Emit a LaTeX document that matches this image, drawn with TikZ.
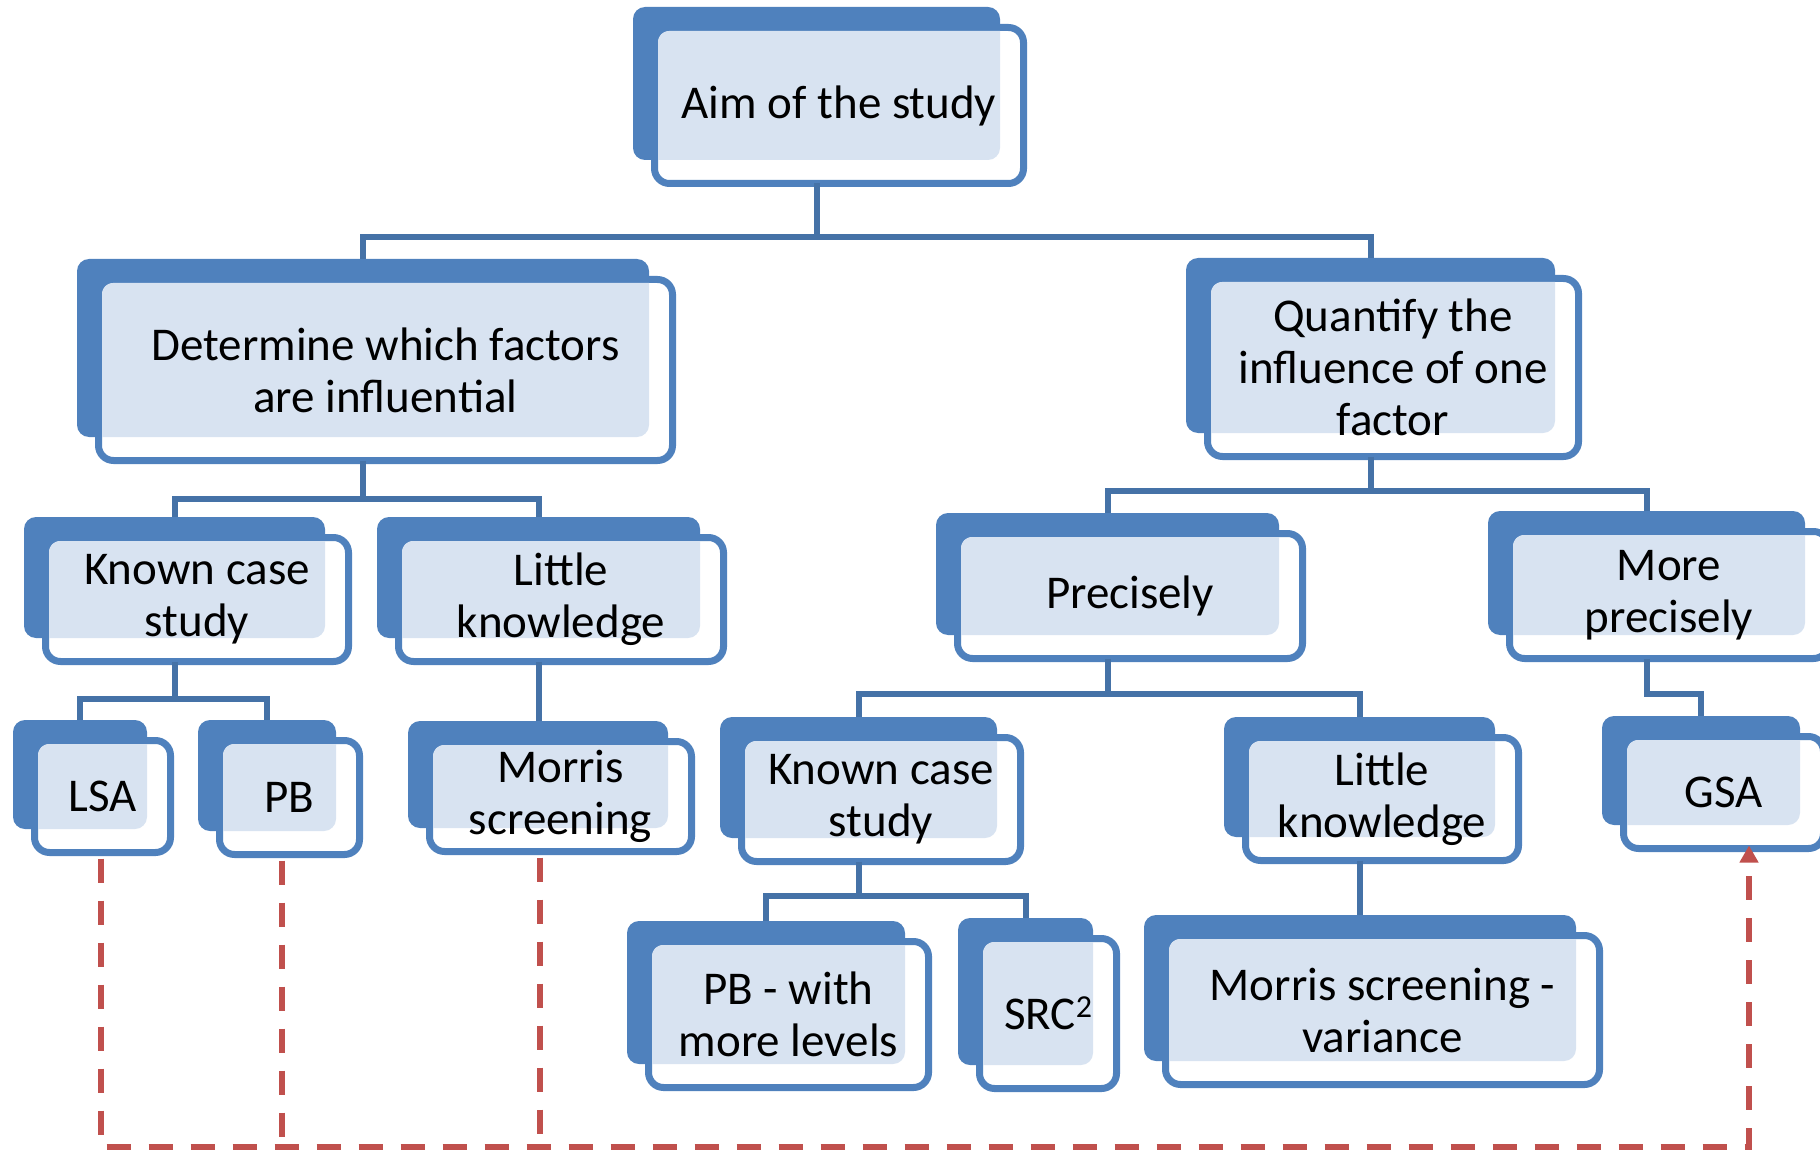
\documentclass[tikz,border=0pt]{standalone}
\usepackage{fontspec}
\setmainfont{Carlito}
\usetikzlibrary{calc,arrows.meta}
\definecolor{backblue}{RGB}{79,129,189}
\definecolor{frontblue}{RGB}{79,129,189}
\definecolor{connblue}{RGB}{69,114,167}
\definecolor{lightfill}{RGB}{216,227,241}
\definecolor{dashred}{RGB}{192,80,77}
\tikzset{
  backbox/.style={fill=backblue, draw=none, rounded corners=12pt, inner sep=0pt, outer sep=0pt, rectangle},
  frontbox/.style={fill=white, draw=frontblue, line width=7pt, rounded corners=15pt, inner sep=0pt, outer sep=0pt, rectangle},
  txt/.style={align=center, inner sep=0pt, font=\fontsize{47}{52}\selectfont, text=black},
  conn/.style={draw=connblue, line width=6pt},
  reddash/.style={draw=dashred, line width=6.5pt, dash pattern=on 24pt off 18pt},
}
% name, L, T, R, B, text
\newcommand{\tbox}[6]{%
  \node[backbox, minimum width={#4-#2-9}, minimum height={#5-#3-10}] (#1B) at ({(#2+#4)/2-22.5},{(#3+#5)/2-22}) {};
  \node[frontbox, minimum width={#4-#2-7}, minimum height={#5-#3-7}] (#1) at ({(#2+#4)/2},{(#3+#5)/2}) {};
  \begin{scope}
    \clip[rounded corners=11pt] (#2+7,#3+7) rectangle (#4-7,#5-7);
    \fill[lightfill, rounded corners=12pt] (#2-18,#3-17) rectangle (#4-27,#5-27);
  \end{scope}
  \node[txt] (#1T) at (#1.center) {#6};
}
\newcommand{\suptwo}{\raisebox{0.26em}{\fontsize{32}{32}\selectfont 2}}
\begin{document}
\begin{tikzpicture}[x=1pt,y=-1pt]
\useasboundingbox (0,0) rectangle (1820,1150);
% elbow levels
\coordinate (e1) at (0,237);
\coordinate (e2) at (0,499);
\coordinate (e3) at (0,491);
\coordinate (e4) at (0,699);
\coordinate (e5) at (0,694);
\coordinate (e7) at (0,896);
\coordinate (base) at (0,1147);
% boxes
\tbox{aim}{651}{24}{1027}{187}{Aim of the study}
\tbox{det}{95}{276}{676}{464}{Determine which factors\\are influential}
\tbox{qua}{1204}{275}{1582}{460}{Quantify the\\influence of one\\factor}
\tbox{kcsL}{42}{534}{352}{665}{Known case\\study}
\tbox{lkL}{395}{534}{727}{665}{Little\\knowledge}
\tbox{pre}{954}{530}{1306}{662}{Precisely}
\tbox{mpre}{1506}{528}{1832}{662}{More\\precisely}
\tbox{lsa}{31}{737}{174}{856}{LSA}
\tbox{pb}{216}{737}{363}{858}{PB}
\tbox{mor}{426}{738}{695}{855}{Morris\\screening}
\tbox{kcsR}{738}{734}{1024}{865}{Known case\\study}
\tbox{lkR}{1242}{734}{1522}{864}{Little\\knowledge}
\tbox{gsa}{1620}{733}{1827}{852}{GSA}
\tbox{pbw}{645}{938}{932}{1091}{PB - with\\more levels}
\tbox{src}{976}{935}{1120}{1092}{SRC\suptwo}
\tbox{mvar}{1162}{932}{1603}{1088}{Morris screening -\\variance}
% connectors
\draw[conn] (aimB.south |- aim.south) -- (aimB.south |- e1) -| (detB.north);
\draw[conn] (aimB.south |- e1) -| (quaB.north);
\draw[conn] (detB.south |- det.south) -- (detB.south |- e2) -| (kcsLB.north);
\draw[conn] (detB.south |- e2) -| (lkLB.north);
\draw[conn] (quaB.south |- qua.south) -- (quaB.south |- e3) -| (preB.north);
\draw[conn] (quaB.south |- e3) -| (mpreB.north);
\draw[conn] (kcsLB.south |- kcsL.south) -- (kcsLB.south |- e4) -| (lsaB.north);
\draw[conn] (kcsLB.south |- e4) -| (pbB.north);
\draw[conn] (lkLB.south |- lkL.south) -- (lkLB.south |- morB.north);
\draw[conn] (preB.south |- pre.south) -- (preB.south |- e5) -| (kcsRB.north);
\draw[conn] (preB.south |- e5) -| (lkRB.north);
\draw[conn] (mpreB.south |- mpre.south) -- (mpreB.south |- e5) -| (gsaB.north);
\draw[conn] (kcsRB.south |- kcsR.south) -- (kcsRB.south |- e7) -| (pbwB.north);
\draw[conn] (kcsRB.south |- e7) -| (srcB.north);
\draw[conn] (lkRB.south |- lkR.south) -- (lkRB.south |- mvarB.north);
% red dashed feedback
\coordinate (dLSA) at ($(lsa.south)+(-1.5,6)$);
\coordinate (dPB) at ($(pb.south)+(-7.5,6)$);
\coordinate (dMOR) at ($(mor.south)+(-20.5,6)$);
\coordinate (dGSA) at ($(gsa.south)+(25.5,-3)$);
\draw[reddash, -{Triangle[width=18pt,length=17pt]}] (dLSA) |- (dGSA |- base) -- (dGSA);
\draw[reddash] (dPB) -- (dPB |- base);
\draw[reddash] (dMOR) -- (dMOR |- base);
\end{tikzpicture}
\end{document}
